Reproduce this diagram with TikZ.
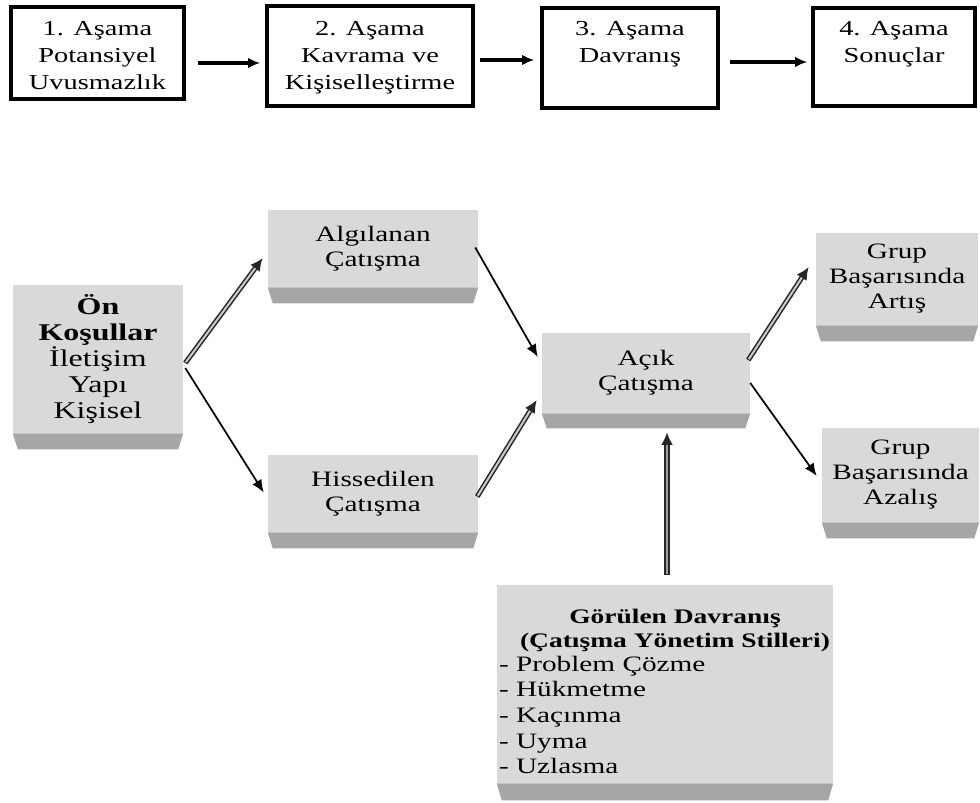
\documentclass[tikz,border=0pt]{standalone}
\usepackage{fontspec}
\setmainfont{Liberation Serif}[FakeStretch=1.33]
\usetikzlibrary{arrows.meta,calc}

\definecolor{facegray}{HTML}{D9D9D9}
\definecolor{bevelgray}{HTML}{A6A6A6}

\begin{document}
\begin{tikzpicture}[x=0.75pt,y=-0.75pt,
  % box sizes are given in the same units as the coordinates
  boxsize/.style 2 args={minimum width={0.75pt*#1}, minimum height={0.75pt*#2}},
  stagebox/.style={draw=black, line width=2.8pt, fill=white, inner sep=0pt},
  stagetext/.style={anchor=north, align=center, inner sep=0pt,
    font=\fontsize{16}{20.25}\selectfont},
  facebox/.style={fill=facegray, inner sep=0pt, align=center,
    font=\fontsize{16.5}{18.75}\selectfont},
  flow/.style={line width=2.8pt, -{Latex[length=9pt,width=8pt]}},
  plain/.style={line width=1.3pt, -{Latex[length=9.5pt,width=8pt]}},
  hollowouter/.style={line width=3.8pt, black!85, -{Latex[length=9.5pt,width=9pt]}},
  hollowinner/.style={line width=1.5pt, gray!40, shorten >=9.5pt, shorten <=0.8pt},
  darkinner/.style={line width=1.5pt, gray!75, shorten >=9.5pt, shorten <=0.8pt}
]
\useasboundingbox (0,0) rectangle (980,802);

% ---- stage boxes along the top ----
\node[stagebox, boxsize={173}{92}]  (s1) at (97.5,53) {};
\node[stagebox, boxsize={206}{100}] (s2) at (370,56) {};
\node[stagebox, boxsize={176}{100}] (s3) at (630,58) {};
\node[stagebox, boxsize={162}{98}]  (s4) at (894,57) {};

\node[stagetext] (s1t) at ($(s1.north)+(0,16)$) {1. Aşama\\Potansiyel\\Uvusmazlık};
\node[stagetext] (s2t) at ($(s2.north)+(0,17)$) {2. Aşama\\Kavrama ve\\Kişiselleştirme};
\node[stagetext] (s3t) at ($(s3.north)+(0,15)$) {3. Aşama\\Davranış};
\node[stagetext] (s4t) at ($(s4.north)+(0,15)$) {4. Aşama\\Sonuçlar};

\draw[flow] ($(s1.east)+(12,10)$) -- ($(s2.west)+(-5,7)$);
\draw[flow] ($(s2.east)+(5,4)$)   -- ($(s3.west)+(-6,2)$);
\draw[flow] ($(s3.east)+(10,4)$)  -- ($(s4.west)+(-4,5)$);

% ---- process boxes with a bevelled lower edge ----
\node[facebox, boxsize={170}{148},
      font=\fontsize{18}{19.5}\selectfont] (pre) at (98,359)
      {\textbf{Ön}\\\textbf{Koşullar}\\İletişim\\Yapı\\Kişisel};
\node[facebox, boxsize={210}{77}] (alg) at (373,248.5) {Algılanan\\Çatışma};
\node[facebox, boxsize={210}{77}] (his) at (373,493.5) {Hissedilen\\Çatışma};
\node[facebox, boxsize={208}{80}] (acik) at (646,373) {Açık\\Çatışma};
\node[facebox, boxsize={162}{92}] (art) at (897,279) {Grup\\Başarısında\\Artış};
\node[facebox, boxsize={157}{94}] (aza) at (900.5,475) {Grup\\Başarısında\\Azalış};
\node[facebox, boxsize={336}{198}] (gor) at (665,684) {};

\node[anchor=north, align=center, inner sep=0pt,
      font=\fontsize{15.5}{18}\selectfont\bfseries] (gorhead)
      at ($(gor.north)+(10,24)$) {Görülen Davranış\\(Çatışma Yönetim Stilleri)};
\node[anchor=north west, align=left, inner sep=0pt,
      font=\fontsize{16.5}{19.2}\selectfont] (gorlist)
      at ($(gor.north west)+(2,71)$)
      {- Problem Çözme\\- Hükmetme\\- Kaçınma\\- Uyma\\- Uzlasma};

\foreach \n/\d in {pre/16, alg/16, his/16, acik/15, art/16, aza/16, gor/17}
  \fill[bevelgray] (\n.south west) -- (\n.south east)
    -- ($(\n.south east)+(-5,\d)$) -- ($(\n.south west)+(5,\d)$) -- cycle;

% ---- connectors ----
\draw[hollowouter] ($(pre.east)+(2,4)$) -- ($(alg.west)+(-5,9.5)$);
\draw[hollowinner] ($(pre.east)+(2,4)$) -- ($(alg.west)+(-5,9.5)$);

\draw[plain] ($(pre.east)+(2,9)$) -- ($(his.west)+(-4,-1)$);

\draw[plain] ($(alg.east)+(-3,-1)$) -- ($(acik.west)+(-4,-16)$);

\draw[hollowouter] ($(his.east)+(-1,3)$) -- ($(acik.west)+(-5,27)$);
\draw[hollowinner] ($(his.east)+(-1,3)$) -- ($(acik.west)+(-5,27)$);

\draw[hollowouter] ($(acik.east)+(-2,-13)$) -- ($(art.west)+(-7,-12)$);
\draw[hollowinner] ($(acik.east)+(-2,-13)$) -- ($(art.west)+(-7,-12)$);

\draw[plain] ($(acik.east)+(0,10)$) -- ($(aza.west)+(-5,1)$);

\draw[hollowouter] ($(gor.north)+(2,-10)$) -- ($(gor.north |- acik.south)+(2,19)$);
\draw[darkinner]   ($(gor.north)+(2,-10)$) -- ($(gor.north |- acik.south)+(2,19)$);

\end{tikzpicture}
\end{document}
